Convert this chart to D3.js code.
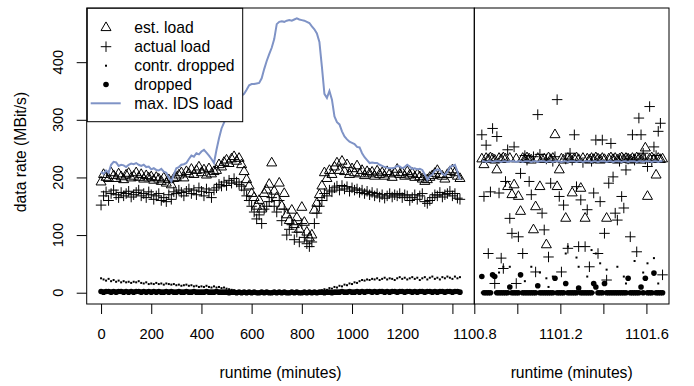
<!DOCTYPE html>
<html><head><meta charset="utf-8">
<script src="https://cdn.jsdelivr.net/npm/d3@7"></script>
<style>
body{margin:0;background:#fff}
svg{display:block;font-family:"Liberation Sans",Arial,Helvetica,sans-serif}
</style>
</head><body>
<svg id="c" width="694" height="386"></svg>
<script>
// ---------- data (left panel: runtime in minutes) ----------
const runtimeLeft = [0,10,20,30,40,50,60,70,80,90,100,110,120,130,140,150,160,170,180,190,200,210,220,230,240,250,260,270,280,290,300,310,320,330,340,350,360,370,380,390,400,410,420,430,440,450,460,470,480,490,500,510,520,530,540,550,560,570,580,590,600,610,620,630,640,650,660,670,680,690,700,710,720,730,740,750,760,770,780,790,800,810,820,830,840,850,860,870,880,890,900,910,920,930,940,950,960,970,980,990,1000,1010,1020,1030,1040,1050,1060,1070,1080,1090,1100,1110,1120,1130,1140,1150,1160,1170,1180,1190,1200,1210,1220,1230,1240,1250,1260,1270,1280,1290,1300,1310,1320,1330,1340,1350,1360,1370,1380,1390,1400,1410,1420,1430];
const estLoadLeft = [192,205,200,198,208,203,198,206,201,196,
 204,207,199,202,208,200,205,197,203,199,
 201,195,200,197,193,199,190,196,187,198,
 200,204,208,199,210,206,214,205,212,218,
 208,213,204,215,206,210,212,222,218,226,
 230,224,232,236,228,233,222,210,196,185,
 172,165,150,160,145,172,178,188,225,176,
 165,190,150,172,135,125,143,118,130,110,
 148,122,105,95,100,143,155,170,185,208,
 198,212,205,218,225,212,228,210,222,205,
 215,208,220,206,212,203,210,206,209,202,
 211,205,208,202,210,206,200,208,214,205,
 208,202,210,204,207,200,205,201,197,193,
 196,200,203,207,212,205,202,197,205,210,
 213,208,202,198];
const actualLoadLeft = [152,168,175,160,172,178,170,165,174,168,
 172,176,166,170,174,178,168,172,165,175,
 170,162,168,172,160,165,158,170,162,175,
 172,178,174,168,176,180,172,178,170,182,
 176,168,180,174,165,178,182,188,185,192,
 186,195,190,198,192,188,185,178,168,160,
 150,140,128,135,120,145,150,158,165,150,
 140,160,125,145,100,110,118,92,105,88,
 120,96,85,80,88,120,138,150,160,172,
 168,178,175,182,185,178,186,180,184,176,
 182,178,180,174,178,172,176,170,174,168,
 172,166,170,164,168,172,166,170,168,172,
 165,170,168,160,165,170,162,168,172,158,
 155,160,165,170,168,174,166,170,172,176,
 168,172,164,162];
const contrDroppedLeft = [25,23,21,24,20,22,19,21,18,20,
 18,19,17,19,18,20,17,16,18,15,
 16,15,17,15,16,14,16,15,14,15,
 13,14,12,13,14,12,13,11,12,10,
 11,10,12,10,9,11,9,10,8,9,
 7,6,5,4,3,2,1,2,1,0,
 1,0,1,0,1,0,1,0,1,0,
 1,0,1,0,1,0,1,0,1,0,
 1,0,1,0,1,2,1,3,4,6,
 5,8,7,10,9,12,11,14,13,16,
 15,18,17,20,22,21,23,22,24,23,
 25,22,24,26,23,25,24,22,25,27,
 24,26,23,25,27,24,26,22,25,27,
 23,26,28,24,26,23,27,25,28,26,
 24,28,25,27];
const droppedLeft = [2,1,2,2,1,2,1,2,2,1,
 2,1,2,1,2,2,1,2,1,2,
 1,2,1,2,1,1,2,1,2,1,
 1,2,1,1,2,1,1,2,1,1,
 1,1,2,1,1,1,2,1,1,1,
 1,0,1,1,0,1,0,1,0,1,
 0,1,0,0,1,0,1,0,0,1,
 0,1,0,1,0,0,1,0,1,0,
 0,1,0,1,0,1,0,1,1,0,
 1,1,0,1,1,1,2,1,1,2,
 1,1,2,1,2,1,2,2,1,2,
 1,2,2,1,2,1,2,2,1,2,
 2,1,2,2,1,2,1,2,2,1,
 2,2,1,2,1,2,2,1,2,2,
 1,2,2,1];
const idsLoadLeft = [210,206,212,208,222,227,226,220,222,221,
 218,222,224,223,225,222,220,222,218,219,
 214,216,213,212,215,210,208,200,193,205,
 216,218,222,223,225,232,238,236,242,240,
 245,248,243,238,232,225,248,268,285,295,
 305,315,322,330,336,338,342,345,352,360,
 362,362,363,364,372,388,402,414,425,440,
 466,470,471,470,472,473,472,474,476,474,
 473,472,470,468,462,457,450,435,392,345,
 338,350,335,306,296,292,280,271,266,262,
 260,258,253,252,242,235,230,225,226,225,
 225,222,220,218,217,216,216,217,220,219,
 216,218,222,219,215,216,214,215,213,205,
 196,202,205,212,214,213,206,204,210,218,
 220,222,210,196];

// ---------- data (right panel: runtime in minutes) ----------
const runtimeRight = [1100.835,1100.845,1100.855,1100.865,1100.875,1100.885,1100.895,1100.905,1100.915,1100.925,
 1100.935,1100.945,1100.955,1100.965,1100.975,1100.985,1100.995,1101.005,1101.015,1101.025,
 1101.035,1101.045,1101.055,1101.065,1101.075,1101.085,1101.095,1101.105,1101.115,1101.125,
 1101.135,1101.145,1101.155,1101.165,1101.175,1101.185,1101.195,1101.205,1101.215,1101.225,
 1101.235,1101.245,1101.255,1101.265,1101.275,1101.285,1101.295,1101.305,1101.315,1101.325,
 1101.335,1101.345,1101.355,1101.365,1101.375,1101.385,1101.395,1101.405,1101.415,1101.425,
 1101.435,1101.445,1101.455,1101.465,1101.475,1101.485,1101.495,1101.505,1101.515,1101.525,
 1101.535,1101.545,1101.555,1101.565,1101.575,1101.585,1101.595,1101.605,1101.615,1101.625,
 1101.635,1101.645,1101.655,1101.665,1101.675];
const estLoadRight = [232,222,233,231,234,232,230,213,233,231,
 234,232,184,233,170,187,232,167,141,233,
 231,234,232,230,109,149,233,184,231,232,
 83,234,231,233,274,184,213,232,230,129,
 233,231,173,232,234,231,181,233,129,232,
 230,233,231,234,232,230,233,231,129,232,
 234,231,233,230,232,234,231,233,232,230,
 233,231,234,232,230,233,251,167,232,234,
 231,204,233,231,232];
const actualLoadRight = [274,167,256,68,175,285,16,271,173,60,
 42,193,248,129,103,253,16,97,207,68,
 238,230,193,170,236,36,309,240,138,109,
 232,62,190,228,236,335,167,36,152,232,
 77,242,230,274,184,80,161,226,80,144,
 45,228,173,265,68,158,265,103,22,190,
 259,201,138,126,228,167,147,213,232,97,
 274,230,71,303,274,242,232,219,323,228,
 253,238,280,294,31];
const contrDroppedRight = [0,0,0,0,0,30,0,0,35,0,
 45,0,0,45,0,0,0,0,0,0,
 20,0,0,45,0,0,0,35,0,0,
 25,10,0,28,0,0,0,0,0,68,
 80,0,0,0,61,45,0,0,0,28,
 0,74,0,68,0,51,0,0,40,0,
 0,0,0,45,0,0,28,16,0,0,
 0,55,0,0,0,35,0,51,0,0,
 60,0,16,0,0];
const droppedRight = [28,0,0,0,0,31,28,0,0,0,
 0,0,0,10,0,0,0,0,31,0,
 0,0,0,0,0,0,12,0,0,0,
 0,0,0,0,25,0,0,0,0,16,
 0,0,0,0,0,8,0,0,0,0,
 0,0,16,10,0,0,0,16,0,0,
 0,0,0,0,0,0,0,0,25,0,
 0,0,0,0,10,0,25,0,0,0,
 34,0,0,0,0];
const idsLoadRight = [228,228,227,228,228,227,228,228,228,227,
 228,228,227,228,228,228,227,228,228,227,
 228,228,228,227,228,228,227,228,228,228,
 227,228,228,227,228,228,228,227,228,228,
 227,228,228,228,227,228,228,227,228,228,
 228,227,228,228,227,228,228,228,227,228,
 228,227,228,228,228,227,228,228,227,228,
 228,228,227,228,228,227,228,228,228,227,
 228,228,227,228,228];

const yTicks = [0,100,200,300,400];
const xTicksLeft = [0,200,400,600,800,1000,1200,1400];
const xTickLabelsLeft = ["0","200","400","600","800","1000","1200",""];
const xTicksRight = [1100.8,1101.0,1101.2,1101.4,1101.6];
const xTickLabelsRight = ["1100.8","","1101.2","","1101.6"];
const legendLabels = ["est. load","actual load","contr. dropped","dropped","max. IDS load"];
const yTitle = "data rate (MBit/s)";
const xTitle = "runtime (minutes)";

// ---------- layout ----------
const FS_TICK = 14.7, FS_TEXT = 15.7;
const blue = "#7f93c6";
const pTop = 8, pBottom = 304;
const leftL = 86.7, rightL = 474.3, rightR = 669;

const svg = d3.select("#c");
const y = d3.scaleLinear().domain([-19.6, 494]).range([pBottom, pTop]);
const xL = d3.scaleLinear().domain([-57.2, 1487.2]).range([leftL, rightL]);
const xR = d3.scaleLinear().domain([1100.8, 1101.705]).range([rightL, rightR]);

const triPath = "M0,-5.77L5,2.89L-5,2.89Z";
const plusPath = "M-5.25,0H5.25M0,-5.25V5.25";

function panel(g, x, t, est, act, contr, drop, ids, clipId, x0, x1) {
  svg.append("clipPath").attr("id", clipId).append("rect")
    .attr("x", x0).attr("y", pTop).attr("width", x1 - x0).attr("height", pBottom - pTop);
  const p = g.append("g").attr("clip-path", `url(#${clipId})`);
  const idx = d3.range(t.length);
  p.append("g").selectAll("path").data(idx).join("path")
    .attr("d", triPath).attr("transform", i => `translate(${x(t[i])},${y(est[i])})`)
    .attr("fill", "none").attr("stroke", "#000").attr("stroke-width", 1);
  p.append("g").selectAll("path").data(idx).join("path")
    .attr("d", plusPath).attr("transform", i => `translate(${x(t[i])},${y(act[i])})`)
    .attr("fill", "none").attr("stroke", "#000").attr("stroke-width", 1);
  p.append("g").selectAll("rect").data(idx).join("rect")
    .attr("x", i => x(t[i]) - 1).attr("y", i => y(contr[i]) - 1)
    .attr("width", 2).attr("height", 2).attr("fill", "#000");
  p.append("g").selectAll("circle").data(idx).join("circle")
    .attr("cx", i => x(t[i])).attr("cy", i => y(drop[i])).attr("r", 2.8).attr("fill", "#000");
  p.append("path").datum(idx)
    .attr("d", d3.line().x(i => x(t[i])).y(i => y(ids[i])))
    .attr("fill", "none").attr("stroke", blue).attr("stroke-width", 2);
}

const gL = svg.append("g");
panel(gL, xL, runtimeLeft, estLoadLeft, actualLoadLeft, contrDroppedLeft, droppedLeft, idsLoadLeft, "clipL", leftL, rightL);
const gR = svg.append("g");
panel(gR, xR, runtimeRight, estLoadRight, actualLoadRight, contrDroppedRight, droppedRight, idsLoadRight, "clipR", rightL, rightR);

// frames
svg.append("rect").attr("x", leftL).attr("y", pTop).attr("width", rightL - leftL).attr("height", pBottom - pTop)
  .attr("fill", "none").attr("stroke", "#000").attr("stroke-width", 1);
svg.append("rect").attr("x", rightL).attr("y", pTop).attr("width", rightR - rightL).attr("height", pBottom - pTop)
  .attr("fill", "none").attr("stroke", "#000").attr("stroke-width", 1);

// x axes
function xAxis(x, ticks, labels) {
  const g = svg.append("g").attr("transform", `translate(0,${pBottom})`)
    .call(d3.axisBottom(x).tickValues(ticks).tickSize(10).tickSizeOuter(0)
      .tickFormat((d, i) => labels[i]));
  g.select(".domain").remove();
  g.selectAll(".tick line").attr("stroke", "#000");
  g.selectAll(".tick text").attr("font-size", FS_TICK).attr("font-family", null).attr("fill", "#000")
    .attr("y", 35.3).attr("dy", null);
}
xAxis(xL, xTicksLeft, xTickLabelsLeft);
xAxis(xR, xTicksRight, xTickLabelsRight);

// y axis
const gy = svg.append("g").attr("transform", `translate(${leftL},0)`)
  .call(d3.axisLeft(y).tickValues(yTicks).tickSize(10).tickSizeOuter(0).tickFormat(""));
gy.select(".domain").remove();
gy.selectAll(".tick text").remove();
gy.selectAll(".tick line").attr("stroke", "#000");
svg.append("g").selectAll("text").data(yTicks).join("text")
  .attr("transform", d => `translate(63.3,${y(d)}) rotate(-90)`)
  .attr("text-anchor", "middle").attr("font-size", FS_TICK).text(d => d);

// titles
svg.append("text").attr("transform", `translate(26,152) rotate(-90)`)
  .attr("text-anchor", "middle").attr("font-size", FS_TEXT).text(yTitle);
svg.append("text").attr("x", (leftL + rightL) / 2).attr("y", 377.5)
  .attr("text-anchor", "middle").attr("font-size", FS_TEXT).text(xTitle);
svg.append("text").attr("x", (rightL + rightR) / 2).attr("y", 377.5)
  .attr("text-anchor", "middle").attr("font-size", FS_TEXT).text(xTitle);

// legend
const lg = svg.append("g");
lg.append("rect").attr("x", 87.3).attr("y", 8.3).attr("width", 155.4).attr("height", 113.4)
  .attr("fill", "#fff").attr("stroke", "#000").attr("stroke-width", 1);
const rowY = [27.7, 46.7, 65.7, 84.5, 103.3];
lg.selectAll("text").data(legendLabels).join("text")
  .attr("x", 134.3).attr("y", (d, i) => rowY[i] + 5.5).attr("font-size", FS_TEXT).text(d => d);
lg.append("path").attr("d", triPath).attr("transform", `translate(106,${rowY[0]})`)
  .attr("fill", "none").attr("stroke", "#000").attr("stroke-width", 1);
lg.append("path").attr("d", plusPath).attr("transform", `translate(106,${rowY[1]})`)
  .attr("fill", "none").attr("stroke", "#000").attr("stroke-width", 1);
lg.append("rect").attr("x", 105).attr("y", rowY[2] - 1).attr("width", 2).attr("height", 2).attr("fill", "#000");
lg.append("circle").attr("cx", 106).attr("cy", rowY[3]).attr("r", 2.8).attr("fill", "#000");
lg.append("line").attr("x1", 90.7).attr("x2", 120.7).attr("y1", rowY[4]).attr("y2", rowY[4])
  .attr("stroke", blue).attr("stroke-width", 2);
</script>
</body></html>
